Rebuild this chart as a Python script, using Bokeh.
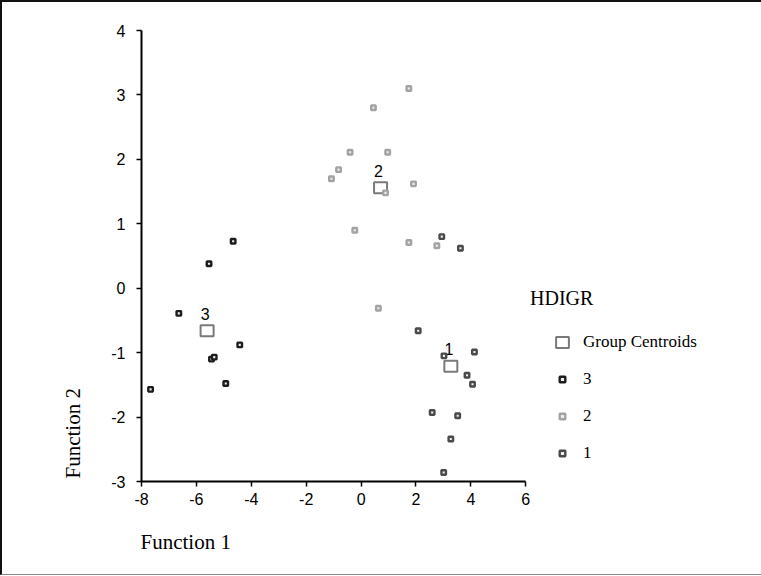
import math
from bokeh.plotting import figure
from bokeh.models import Range1d, FixedTicker, Legend, LegendItem, Label, Title
from bokeh.core.properties import value
from bokeh.embed import file_html
from bokeh.resources import INLINE

# ---- data ----
g1_x = [2.94, 3.62, 2.08, 4.13, 3.02, 3.86, 4.06, 2.59, 3.52, 3.27, 3.01]
g1_y = [0.80, 0.62, -0.66, -0.99, -1.05, -1.35, -1.49, -1.93, -1.98, -2.34, -2.86]
g2_x = [1.74, 0.45, -0.40, 0.97, -0.82, -1.08, 0.89, 1.91, -0.23, 1.74, 2.76, 0.63]
g2_y = [3.10, 2.80, 2.11, 2.11, 1.84, 1.70, 1.48, 1.62, 0.90, 0.71, 0.66, -0.31]
g3_x = [-4.66, -5.54, -6.64, -4.42, -5.45, -5.35, -4.93, -7.67]
g3_y = [0.73, 0.38, -0.39, -0.88, -1.10, -1.07, -1.48, -1.57]
centroid_x = [3.27, 0.71, -5.61]
centroid_y = [-1.21, 1.56, -0.66]
centroid_labels = ["1", "2", "3"]
x_ticks = [-8, -6, -4, -2, 0, 2, 4, 6]
y_ticks = [-3, -2, -1, 0, 1, 2, 3, 4]
legend_title = "HDIGR"
x_title = "Function 1"
y_title = "Function 2"

SERIF = "Liberation Serif"
SANS = "Liberation Sans"

p = figure(width=761, height=576, frame_width=600, frame_height=451,
           x_range=Range1d(-8, 13.86), y_range=Range1d(-3, 4),
           output_backend="svg", toolbar_location=None,
           min_border_left=139, min_border_right=20, min_border_top=28, min_border_bottom=93)
p.outline_line_color = None
p.xgrid.visible = False
p.ygrid.visible = False
p.background_fill_color = "white"
p.border_fill_color = "white"
p.styles = {"border-left": "2px solid #111", "border-top": "2px solid #111",
            "border-bottom": "1px solid #888"}

for ax in (p.xaxis[0], p.yaxis[0]):
    ax.axis_line_width = 2
    ax.axis_line_color = "black"
    ax.major_tick_line_width = 1.5
    ax.major_tick_line_color = "black"
    ax.major_tick_out = 5
    ax.major_tick_in = 0
    ax.minor_tick_line_color = None
    ax.major_label_text_font = SANS
    ax.major_label_text_font_size = "16px"
    ax.major_label_text_color = "black"

p.xaxis.ticker = FixedTicker(ticks=x_ticks)
p.yaxis.ticker = FixedTicker(ticks=y_ticks)
p.xaxis.major_label_overrides = {t: str(t) for t in x_ticks}
p.yaxis.major_label_overrides = {t: str(t) for t in y_ticks}
p.xaxis.bounds = (-8, 6)
p.xaxis.major_label_standoff = 6
p.yaxis.major_label_standoff = 11

# axis titles
p.add_layout(Title(text=x_title, align="left", offset=-1, standoff=41, text_line_height=0.8,
                   text_font=SERIF, text_font_size="21px", text_font_style="normal",
                   text_color="black"), "below")
p.add_layout(Title(text=y_title, align="left", offset=3, standoff=47,
                   text_font=SERIF, text_font_size="21px", text_font_style="normal",
                   text_color="black"), "left")

# centroids
cen = p.rect(x=centroid_x, y=centroid_y, width=13, height=11, width_units="screen",
             height_units="screen", fill_color=None, line_color="#7a7a7a", line_width=2)
p.text(x=centroid_x, y=centroid_y, text=centroid_labels, x_offset=-2, y_offset=-17,
       text_font=value(SANS), text_font_size="16px", text_align="center",
       text_baseline="middle", text_color="black")

def pts(xs, ys, col):
    return p.scatter(x=xs, y=ys, marker="square", size=4.5, line_width=2.4,
                     line_color=col, fill_color="#eeeeee")

r3 = pts(g3_x, g3_y, "#1c1c1c")
r2 = pts(g2_x, g2_y, "#a3a3a3")
r1 = pts(g1_x, g1_y, "#4a4a4a")

legend = Legend(items=[LegendItem(label="Group Centroids", renderers=[cen]),
                       LegendItem(label="3", renderers=[r3]),
                       LegendItem(label="2", renderers=[r2]),
                       LegendItem(label="1", renderers=[r1])],
                location=(413, 18), glyph_width=16, glyph_height=14, label_height=14,
                spacing=17, label_standoff=13, padding=0, margin=0,
                border_line_color=None, background_fill_alpha=0,
                label_text_font=SERIF, label_text_font_size="17px", label_text_color="black")
p.add_layout(legend, "center")

p.add_layout(Label(x=6.155, y=-0.157, text=legend_title, text_font=SERIF, text_font_size="20px",
                   text_baseline="middle", text_align="left", text_color="black"))

open("out.html", "w").write(file_html(p, INLINE))
